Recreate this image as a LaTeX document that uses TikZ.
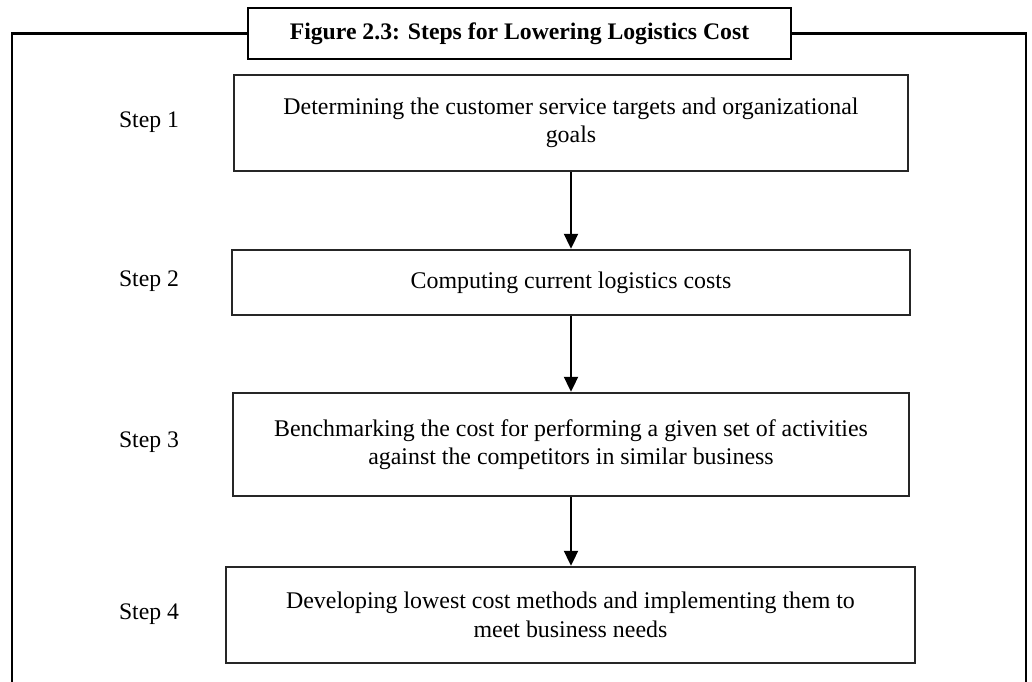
\documentclass[tikz,border=0pt]{standalone}
\usepackage{fontspec}
\setmainfont{Liberation Serif}
\usepackage{xcolor}
\usetikzlibrary{arrows.meta}

\begin{document}
\begin{tikzpicture}[x=0.02cm, y=-0.02cm,
    stepbox/.style={draw=black!85, line width=1.4pt, align=center, inner sep=0pt,
        font=\fontsize{13.6}{16.2}\selectfont},
    steplabel/.style={font=\fontsize{13.5}{16}\selectfont},
    flow/.style={-{Triangle[width=8pt,length=8.5pt]}, line width=1pt},
    frame/.style={line width=1.4pt},
]
    \useasboundingbox (0,0) rectangle (1032,682);

    % 标题框
    \node[draw, line width=1.4pt, minimum width=10.86cm, minimum height=1.02cm,
          inner sep=0pt, font=\bfseries\fontsize{13.5}{16}\selectfont]
        (title) at (519.5,33.5) {Figure 2.3: Steps for Lowering Logistics Cost};

    % 外框(底部开口)
    \coordinate (tl) at (12,33.5);
    \coordinate (bl) at (12,682);
    \coordinate (tr) at (1026,33.5);
    \coordinate (br) at (1026,682);
    \draw[frame] (title.west) -- (tl) -- (bl);
    \draw[frame] (title.east) -- (tr) -- (br);

    % 步骤框
    \node[stepbox, minimum width=13.48cm, minimum height=1.92cm] (box1) at (571,123)
        {Determining the customer service targets and organizational\\goals};
    \node[stepbox, minimum width=13.56cm, minimum height=1.30cm] (box2) at (571,282.5)
        {Computing current logistics costs};
    \node[stepbox, minimum width=13.52cm, minimum height=2.06cm] (box3) at (571,444.5)
        {Benchmarking the cost for performing a given set of activities\\against the competitors in similar business};
    \node[stepbox, minimum width=13.78cm, minimum height=1.92cm] (box4) at (570.5,615)
        {Developing lowest cost methods and implementing them to\\meet business needs};

    % 左侧步骤编号
    \node[steplabel] (lab1) at (149,122) {Step 1};
    \node[steplabel] (lab2) at (149,281) {Step 2};
    \node[steplabel] (lab3) at (149,442) {Step 3};
    \node[steplabel] (lab4) at (149,614) {Step 4};

    % 箭头
    \draw[flow] (box1.south) -- (box2.north);
    \draw[flow] (box2.south) -- (box3.north);
    \draw[flow] (box3.south) -- (box3.south |- box4.north);

\end{tikzpicture}
\end{document}
